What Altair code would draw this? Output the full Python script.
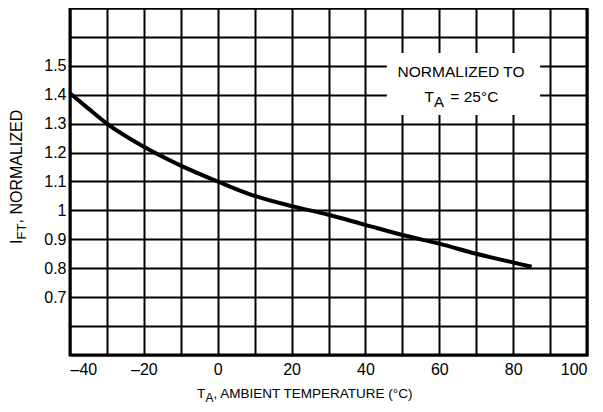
import altair as alt
import pandas as pd

# Curve data
temp_c = [-40, -35, -30, -20, -10, 0, 10, 20, 30, 40, 50, 60, 70, 80, 85]
ift_norm = [1.405, 1.352, 1.30, 1.22, 1.155, 1.10, 1.05, 1.015, 0.985, 0.95, 0.915, 0.885, 0.85, 0.82, 0.805]

# Grid / tick values
x_grid = [-40, -30, -20, -10, 0, 10, 20, 30, 40, 50, 60, 70, 80, 90, 100]
y_grid = [0.5, 0.6, 0.7, 0.8, 0.9, 1.0, 1.1, 1.2, 1.3, 1.4, 1.5, 1.6, 1.7]

# Annotation box (data coords)
box_x = [45.8]
box_x2 = [87.3]
box_y = [1.33]
box_y2 = [1.544]

FONT = "Liberation Sans, Arial"

df = pd.DataFrame({"t": temp_c, "i": ift_norm})
box_df = pd.DataFrame({"x": box_x, "x2": box_x2, "y": box_y, "y2": box_y2})
one = pd.DataFrame({"a": [0]})

xs = alt.Scale(domain=[-40, 100], nice=False, zero=False)
ys = alt.Scale(domain=[0.5, 1.7], nice=False, zero=False)

x_axis = alt.Axis(
    values=x_grid, grid=True, gridColor="black", gridWidth=2, gridOpacity=1,
    ticks=False, domain=False, title=None,
    labelExpr="datum.value % 20 === 0 ? (datum.value < 0 ? '\u2013' + abs(datum.value) : '' + datum.value) : ''",
    labelFont=FONT, labelFontSize=16, labelColor="black", labelPadding=6,
    labelOverlap=False,
)
y_axis = alt.Axis(
    values=y_grid, grid=True, gridColor="black", gridWidth=2, gridOpacity=1,
    ticks=False, domain=False, title=None,
    labelExpr="datum.value > 0.65 && datum.value < 1.55 ? format(datum.value, '.1~f') : ''",
    labelFont=FONT, labelFontSize=16, labelColor="black", labelPadding=4,
    labelOverlap=False,
)

box = alt.Chart(box_df).mark_rect(color="white", opacity=1).encode(
    x=alt.X("x:Q", scale=xs, axis=x_axis),
    x2="x2:Q",
    y=alt.Y("y:Q", scale=ys, axis=y_axis),
    y2="y2:Q",
)

curve = alt.Chart(df).mark_line(color="black", strokeWidth=4, interpolate="monotone").encode(
    x=alt.X("t:Q", scale=xs, axis=x_axis),
    y=alt.Y("i:Q", scale=ys, axis=y_axis),
)

def dtext(txt, x, y, size, align="left"):
    d = pd.DataFrame({"x": [x], "y": [y]})
    return alt.Chart(d).mark_text(
        text=txt, font=FONT, fontSize=size, color="black", align=align, baseline="alphabetic"
    ).encode(x=alt.X("x:Q", scale=xs, axis=x_axis), y=alt.Y("y:Q", scale=ys, axis=y_axis))

def ptext(txt, x, y, size, angle=0):
    return alt.Chart(one).mark_text(
        text=txt, font=FONT, fontSize=size, color="black", align="left",
        baseline="alphabetic", angle=angle
    ).encode(x=alt.value(x), y=alt.value(y))

annot = [
    dtext("NORMALIZED TO", 65.9, 1.461, 15.5, align="center"),
    dtext("T", 56.0, 1.375, 15.5),
    dtext("A", 58.6, 1.358, 15),
    dtext("= 25°C", 63.0, 1.375, 15.5),
]

xtitle = [
    ptext("T", 127, 390, 13.5),
    ptext("A", 135.5, 394, 12),
    ptext(", AMBIENT TEMPERATURE (°C)", 143.5, 390, 13.5),
]

ytitle = [
    ptext("I", -48, 236, 16, angle=270),
    ptext("FT", -44, 231.5, 13, angle=270),
    ptext(", NORMALIZED", -48, 215.5, 16, angle=270),
]

chart = alt.layer(box, curve, *annot, *xtitle, *ytitle).properties(
    width=517,
    height=347,
    autosize=alt.AutoSizeParams(type="none"),
    padding={"left": 62, "top": 0, "right": 8, "bottom": 49},
    background="white",
).configure_view(stroke="black", strokeWidth=3)

chart.save("out.html", embed_options={"renderer": "svg", "actions": False})
